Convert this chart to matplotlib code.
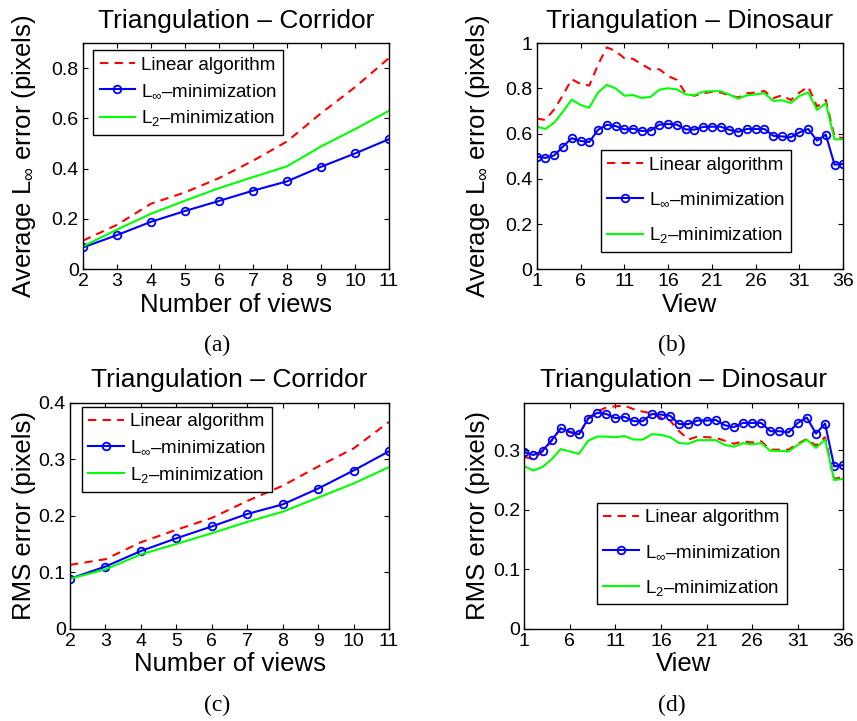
import matplotlib
matplotlib.use("Agg")
import matplotlib.pyplot as plt
from matplotlib.ticker import FormatStrFormatter

plt.rcParams['font.family'] = ['Liberation Sans', 'DejaVu Sans']
plt.rcParams['mathtext.fontset'] = 'custom'
plt.rcParams['mathtext.rm'] = 'Liberation Sans'
plt.rcParams['mathtext.it'] = 'Liberation Sans:italic'
plt.rcParams['mathtext.default'] = 'rm'

# Corridor data (views 2..11)
corridor_views = [2, 3, 4, 5, 6, 7, 8, 9, 10, 11]
corr_avg_linear = [0.113, 0.176, 0.26, 0.305, 0.362, 0.431, 0.508, 0.62, 0.724, 0.84]
corr_avg_linf = [0.086, 0.135, 0.188, 0.231, 0.271, 0.312, 0.349, 0.407, 0.460, 0.517]
corr_avg_l2 = [0.09, 0.157, 0.22, 0.272, 0.322, 0.366, 0.409, 0.488, 0.557, 0.63]

corr_rms_linear = [0.113, 0.123, 0.153, 0.175, 0.196, 0.226, 0.253, 0.287, 0.319, 0.366]
corr_rms_linf = [0.0885, 0.11, 0.1375, 0.16, 0.181, 0.203, 0.22, 0.248, 0.28, 0.314]
corr_rms_l2 = [0.0885, 0.105, 0.1315, 0.150, 0.169, 0.189, 0.207, 0.232, 0.257, 0.286]

# Dinosaur data (views 1..36)
dino_views = list(range(1, 37))
dino_avg_linear = [0.667, 0.661, 0.708, 0.771, 0.841, 0.82, 0.813, 0.905, 0.982, 0.966,
                   0.934, 0.931, 0.907, 0.885, 0.885, 0.855, 0.838, 0.779, 0.768, 0.779,
                   0.785, 0.782, 0.77, 0.76, 0.779, 0.782, 0.789, 0.757, 0.77, 0.749,
                   0.782, 0.808, 0.72, 0.749, 0.587, 0.58]
dino_avg_linf = [0.499, 0.493, 0.504, 0.543, 0.58, 0.568, 0.563, 0.617, 0.639, 0.634,
                 0.619, 0.622, 0.612, 0.614, 0.64, 0.643, 0.64, 0.619, 0.618, 0.63,
                 0.631, 0.631, 0.617, 0.608, 0.621, 0.621, 0.621, 0.591, 0.588, 0.584,
                 0.606, 0.621, 0.569, 0.596, 0.463, 0.466]
dino_avg_l2 = [0.631, 0.621, 0.649, 0.698, 0.751, 0.727, 0.715, 0.782, 0.816, 0.801,
               0.768, 0.771, 0.758, 0.763, 0.795, 0.801, 0.796, 0.774, 0.77, 0.786,
               0.788, 0.788, 0.773, 0.755, 0.77, 0.774, 0.779, 0.745, 0.748, 0.736,
               0.767, 0.783, 0.705, 0.735, 0.575, 0.575]

dino_rms_linear = [0.289, 0.285, 0.298, 0.316, 0.337, 0.330, 0.326, 0.354, 0.365, 0.372,
                   0.374, 0.375, 0.369, 0.365, 0.362, 0.355, 0.350, 0.332, 0.318, 0.323,
                   0.322, 0.321, 0.316, 0.311, 0.315, 0.313, 0.315, 0.301, 0.301, 0.301,
                   0.311, 0.319, 0.308, 0.322, 0.252, 0.255]
dino_rms_linf = [0.297, 0.292, 0.299, 0.317, 0.337, 0.331, 0.327, 0.353, 0.363, 0.361,
                 0.354, 0.356, 0.349, 0.349, 0.361, 0.360, 0.358, 0.344, 0.344, 0.350,
                 0.350, 0.351, 0.342, 0.339, 0.346, 0.346, 0.346, 0.332, 0.332, 0.330,
                 0.346, 0.355, 0.328, 0.345, 0.273, 0.275]
dino_rms_l2 = [0.273, 0.266, 0.272, 0.285, 0.302, 0.298, 0.294, 0.316, 0.323, 0.323,
               0.322, 0.324, 0.318, 0.318, 0.327, 0.326, 0.322, 0.312, 0.311, 0.317,
               0.317, 0.317, 0.309, 0.306, 0.312, 0.310, 0.312, 0.299, 0.299, 0.298,
               0.309, 0.318, 0.304, 0.318, 0.250, 0.252]

labels = ["Linear algorithm", r"L$_\infty$–minimization", r"L$_2$–minimization"]

W, H = 857, 721
fig = plt.figure(figsize=(W / 100, H / 100), dpi=100)


def add_axes_px(left, top, right, bottom):
    return fig.add_axes([left / W, 1 - bottom / H, (right - left) / W, (bottom - top) / H])


def draw_panel(ax, x, lin, linf, l2, title, xlabel, ylabel, xticks, yticks, ylim,
               ylab_x, leg_box, leg_space):
    ax.plot(x, lin, color=(1, 0, 0), ls='--', lw=1.5, dashes=(4, 3), label=labels[0])
    ax.plot(x, linf, color=(0, 0, 1), lw=1.5, marker='o', ms=5.5, mfc='none',
            mew=1.3, label=labels[1])
    ax.plot(x, l2, color=(0, 1, 0), lw=1.5, label=labels[2])
    ax.set_xlim(x[0], x[-1])
    ax.set_ylim(*ylim)
    ax.set_xticks(xticks)
    ax.set_yticks(yticks)
    ax.yaxis.set_major_formatter(FormatStrFormatter('%g'))
    ax.tick_params(direction='in', top=True, right=True, length=3.5, width=0.8,
                   labelsize=14, pad=3)
    for s in ax.spines.values():
        s.set_linewidth(1.0)
    ax.set_title(title, fontsize=19, pad=11)
    ax.set_xlabel(xlabel, fontsize=18.5)
    ax.set_ylabel(ylabel, fontsize=18.5)
    ax.xaxis.set_label_coords(0.5, -0.105)
    ax.yaxis.set_label_coords(ylab_x, 0.5)
    leg = ax.legend(loc='upper left', bbox_to_anchor=leg_box, bbox_transform=fig.transFigure,
                    fontsize=13.5, frameon=True, fancybox=False, edgecolor='black',
                    framealpha=1, handlelength=1.9, handletextpad=0.3,
                    labelspacing=leg_space, borderpad=0.35, borderaxespad=0,
                    numpoints=1)
    leg.get_frame().set_linewidth(1.0)


ax_a = add_axes_px(83, 43, 389, 269)
draw_panel(ax_a, corridor_views, corr_avg_linear, corr_avg_linf, corr_avg_l2,
           "Triangulation – Corridor", "Number of views", r"Average L$_\infty$ error (pixels)",
           corridor_views, [0, 0.2, 0.4, 0.6, 0.8], (0, 0.9), -0.147,
           (93 / W, 1 - 50 / H), 0.45)

ax_b = add_axes_px(536.7, 43.3, 843.3, 269.3)
draw_panel(ax_b, dino_views, dino_avg_linear, dino_avg_linf, dino_avg_l2,
           "Triangulation – Dinosaur", "View", r"Average L$_\infty$ error (pixels)",
           [1, 6, 11, 16, 21, 26, 31, 36], [0, 0.2, 0.4, 0.6, 0.8, 1], (0, 1), -0.146,
           (600.7 / W, 1 - 150 / H), 0.9)

ax_c = add_axes_px(70, 402.7, 389, 628.7)
draw_panel(ax_c, corridor_views, corr_rms_linear, corr_rms_linf, corr_rms_l2,
           "Triangulation – Corridor", "Number of views", "RMS error (pixels)",
           corridor_views, [0, 0.1, 0.2, 0.3, 0.4], (0, 0.4), -0.107,
           (81.7 / W, 1 - 406.7 / H), 0.45)

ax_d = add_axes_px(524.3, 402.7, 843.3, 628.7)
draw_panel(ax_d, dino_views, dino_rms_linear, dino_rms_linf, dino_rms_l2,
           "Triangulation – Dinosaur", "View", "RMS error (pixels)",
           [1, 6, 11, 16, 21, 26, 31, 36], [0, 0.1, 0.2, 0.3], (0, 0.38), -0.108,
           (596.7 / W, 1 - 502.7 / H), 0.9)

# subfigure captions
for txt, px, py in [("(a)", 217, 345), ("(b)", 672, 345), ("(c)", 217, 705), ("(d)", 672, 705)]:
    fig.text(px / W, 1 - py / H, txt, ha='center', va='center', fontsize=17,
             family='Liberation Serif')

fig.savefig("out.png", dpi=100)
